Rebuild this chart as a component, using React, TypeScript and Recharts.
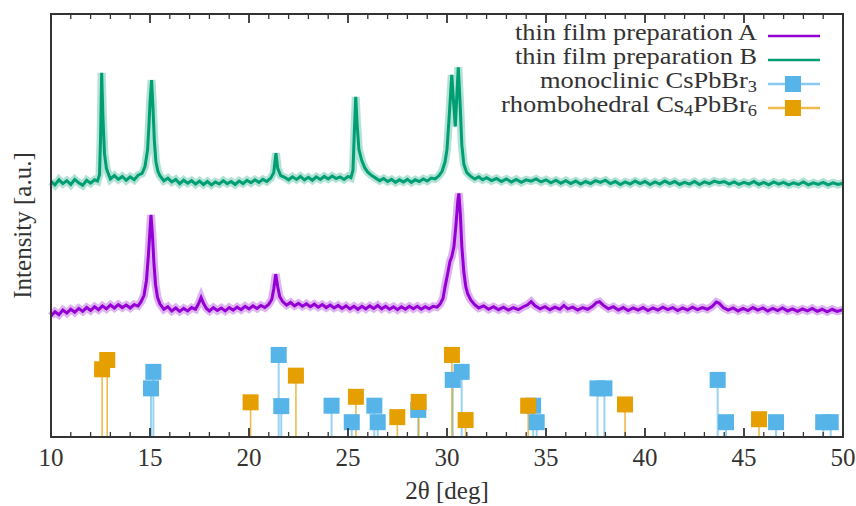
import React from 'react';
import { ComposedChart, Line, Scatter, XAxis, YAxis, ReferenceLine, Label } from 'recharts';

const FONT = '"Liberation Serif", "DejaVu Serif", "Times New Roman", serif';

const GREEN = '#009E73';
const PURPLE = '#9400D3';
const BLUE = '#56B4E9';
const ORANGE = '#E69F00';
const FRAME = '#333';

// chart box (must match the margins / axis sizes below)
const W = 856;
const H = 506;
const PLOT_LEFT = 51;
const PLOT_RIGHT = 843;
const PLOT_TOP = 14;
const PLOT_BOTTOM = 437;

// thin film preparation A (offset trace, arbitrary units)
const filmA: [number, number][] = [
  [10.0, 28.6], [10.2, 29.6], [10.4, 28.9], [10.6, 30.0], [10.8, 29.3], [11.0, 30.2], [11.2, 29.5],
  [11.4, 30.4], [11.6, 29.7], [11.8, 30.6], [12.0, 29.9], [12.2, 30.8], [12.4, 30.1], [12.6, 31.0],
  [12.8, 30.3], [13.0, 31.2], [13.2, 30.5], [13.4, 31.3], [13.6, 30.6], [13.8, 31.2], [14.0, 30.5],
  [14.2, 31.3], [14.4, 31.0], [14.55, 32.0], [14.7, 33.5], [14.82, 37], [14.92, 43], [15.0, 49],
  [15.05, 52.5], [15.12, 48], [15.2, 41], [15.28, 36], [15.38, 33], [15.5, 31.5], [15.7, 30.2],
  [15.9, 30.8], [16.1, 29.8], [16.3, 30.5], [16.5, 29.7], [16.7, 30.4], [16.9, 29.8], [17.1, 30.6],
  [17.3, 30.2], [17.45, 31.5], [17.58, 33.0], [17.7, 31.6], [17.85, 30.4], [18.0, 29.8], [18.2, 30.6],
  [18.4, 29.9], [18.6, 30.5], [18.8, 29.8], [19.0, 30.6], [19.2, 30.0], [19.4, 30.7], [19.6, 30.1],
  [19.8, 30.9], [20.0, 30.3], [20.2, 31.0], [20.4, 30.4], [20.6, 31.1], [20.8, 30.6], [21.0, 31.4],
  [21.15, 32.5], [21.25, 35], [21.35, 38.5], [21.45, 35.5], [21.55, 33.2], [21.7, 32.0], [21.9, 31.2],
  [22.1, 31.8], [22.3, 31.0], [22.5, 31.6], [22.7, 30.9], [22.9, 31.5], [23.1, 30.8], [23.3, 31.4],
  [23.5, 30.7], [23.7, 31.3], [23.9, 30.6], [24.1, 31.2], [24.3, 30.5], [24.5, 31.1], [24.7, 30.4],
  [24.9, 31.0], [25.1, 30.3], [25.3, 30.9], [25.5, 30.2], [25.7, 30.9], [25.9, 30.3], [26.1, 31.0],
  [26.3, 30.4], [26.5, 31.1], [26.7, 30.3], [26.9, 30.9], [27.1, 30.2], [27.3, 30.8], [27.5, 30.1],
  [27.7, 30.8], [27.9, 30.2], [28.1, 30.9], [28.3, 30.3], [28.5, 30.9], [28.7, 30.2], [28.9, 30.8],
  [29.1, 30.3], [29.3, 30.9], [29.5, 30.7], [29.65, 31.4], [29.8, 32.8], [29.9, 35.5], [30.05, 39],
  [30.15, 41.5], [30.24, 42.6], [30.35, 45], [30.45, 50], [30.55, 56], [30.6, 57.6], [30.67, 53],
  [30.75, 45], [30.85, 39], [30.95, 35.5], [31.05, 33.8], [31.2, 32.4], [31.4, 31.3], [31.6, 30.5],
  [31.85, 31.0], [32.1, 30.2], [32.35, 30.8], [32.6, 30.1], [32.85, 30.7], [33.1, 30.0], [33.35, 30.6],
  [33.6, 30.1], [33.85, 30.8], [34.05, 31.2], [34.25, 32.0], [34.45, 31.0], [34.7, 30.3], [34.95, 30.8],
  [35.2, 30.1], [35.45, 30.7], [35.7, 30.2], [35.9, 31.1], [36.1, 30.3], [36.35, 30.7], [36.6, 30.0],
  [36.85, 30.6], [37.1, 30.2], [37.35, 30.9], [37.55, 31.8], [37.7, 32.0], [37.9, 31.1], [38.15, 30.3],
  [38.4, 30.8], [38.65, 30.0], [38.9, 30.6], [39.15, 29.9], [39.4, 30.5], [39.65, 30.0], [39.9, 30.6],
  [40.15, 29.9], [40.4, 30.5], [40.65, 30.0], [40.9, 30.7], [41.15, 30.1], [41.4, 30.6], [41.65, 29.9],
  [41.9, 30.5], [42.15, 30.0], [42.4, 30.7], [42.65, 30.1], [42.9, 30.6], [43.15, 30.2], [43.4, 30.9],
  [43.6, 31.9], [43.75, 31.6], [43.95, 30.6], [44.2, 30.0], [44.45, 30.5], [44.7, 29.8], [44.95, 30.4],
  [45.2, 29.9], [45.45, 30.6], [45.7, 30.0], [45.95, 30.5], [46.2, 29.8], [46.45, 30.4], [46.7, 29.9],
  [46.95, 30.5], [47.2, 29.8], [47.45, 30.3], [47.7, 29.7], [47.95, 30.3], [48.2, 29.8], [48.45, 30.4],
  [48.7, 29.7], [48.95, 30.2], [49.2, 29.6], [49.45, 30.2], [49.7, 29.7], [50.0, 30.1],
];

// thin film preparation B
const filmB: [number, number][] = [
  [10.0, 60.4], [10.2, 59.6], [10.4, 60.8], [10.6, 59.9], [10.8, 60.6], [11.0, 59.7], [11.2, 60.9],
  [11.4, 60.1], [11.6, 59.5], [11.8, 60.7], [12.0, 60.0], [12.2, 60.8], [12.35, 60.5], [12.45, 62.0],
  [12.5, 70], [12.56, 86.1], [12.62, 76], [12.7, 67], [12.8, 63.5], [12.9, 62.2], [13.0, 61.0],
  [13.2, 61.8], [13.4, 60.9], [13.6, 61.6], [13.8, 60.7], [14.0, 61.5], [14.2, 60.8], [14.4, 61.9],
  [14.6, 62.3], [14.75, 64], [14.88, 68], [14.95, 74], [15.0, 79], [15.08, 84.4], [15.15, 78],
  [15.22, 70], [15.3, 65], [15.4, 62.8], [15.5, 61.8], [15.7, 60.6], [15.9, 61.2], [16.1, 60.3],
  [16.3, 60.9], [16.5, 59.9], [16.7, 60.7], [16.9, 60.0], [17.1, 60.6], [17.3, 59.8], [17.5, 60.5],
  [17.7, 59.7], [17.9, 60.4], [18.1, 59.6], [18.3, 60.3], [18.5, 59.8], [18.7, 60.6], [18.9, 59.9],
  [19.1, 60.4], [19.3, 59.7], [19.5, 60.5], [19.7, 59.9], [19.9, 60.7], [20.1, 60.1], [20.3, 60.8],
  [20.5, 60.2], [20.7, 60.9], [20.9, 60.4], [21.1, 61.2], [21.25, 62.5], [21.36, 67.1], [21.45, 63.5],
  [21.6, 61.8], [21.8, 61.4], [22.0, 60.8], [22.2, 61.5], [22.4, 60.9], [22.6, 61.6], [22.8, 60.8],
  [23.0, 61.4], [23.2, 60.7], [23.4, 61.5], [23.6, 60.9], [23.8, 61.6], [24.0, 61.0], [24.2, 61.7],
  [24.4, 61.1], [24.6, 61.5], [24.8, 60.9], [25.0, 61.6], [25.15, 61.3], [25.25, 63], [25.32, 72],
  [25.39, 80.4], [25.46, 74], [25.55, 68], [25.7, 65.3], [25.85, 63.6], [26.0, 62.6], [26.2, 61.8],
  [26.4, 61.2], [26.6, 60.6], [26.8, 61.1], [27.0, 60.4], [27.2, 60.9], [27.4, 60.2], [27.6, 60.8],
  [27.8, 60.3], [28.0, 60.9], [28.2, 60.2], [28.4, 60.8], [28.6, 60.4], [28.8, 61.0], [29.0, 60.5],
  [29.2, 61.2], [29.4, 61.0], [29.6, 61.8], [29.75, 62.8], [29.9, 65], [30.0, 68], [30.1, 75],
  [30.18, 81], [30.24, 85.6], [30.32, 80], [30.42, 73.4], [30.5, 81], [30.57, 87.4], [30.65, 80],
  [30.75, 69], [30.85, 64.5], [31.0, 62.5], [31.2, 61.6], [31.4, 61.0], [31.6, 61.5], [31.8, 60.8],
  [32.0, 61.3], [32.25, 60.6], [32.5, 61.1], [32.75, 60.4], [33.0, 61.0], [33.25, 60.3], [33.5, 60.9],
  [33.75, 60.2], [34.0, 60.8], [34.25, 60.5], [34.5, 61.0], [34.75, 60.3], [35.0, 60.8], [35.25, 60.1],
  [35.5, 60.7], [35.75, 60.0], [36.0, 60.6], [36.25, 59.9], [36.5, 60.5], [36.75, 59.8], [37.0, 60.4],
  [37.25, 59.9], [37.5, 60.6], [37.75, 60.2], [38.0, 60.7], [38.25, 59.9], [38.5, 60.4], [38.75, 59.7],
  [39.0, 60.3], [39.25, 59.8], [39.5, 60.5], [39.75, 59.9], [40.0, 60.4], [40.25, 59.7], [40.5, 60.3],
  [40.75, 59.8], [41.0, 60.5], [41.25, 59.9], [41.5, 60.4], [41.75, 59.7], [42.0, 60.2], [42.25, 59.8],
  [42.5, 60.4], [42.75, 59.7], [43.0, 60.3], [43.25, 59.9], [43.5, 60.5], [43.75, 60.1], [44.0, 60.4],
  [44.25, 59.8], [44.5, 60.3], [44.75, 59.7], [45.0, 60.2], [45.25, 59.8], [45.5, 60.4], [45.75, 59.7],
  [46.0, 60.2], [46.25, 59.6], [46.5, 60.3], [46.75, 59.8], [47.0, 60.2], [47.25, 59.6], [47.5, 60.1],
  [47.75, 59.7], [48.0, 60.3], [48.25, 59.6], [48.5, 60.1], [48.75, 59.7], [49.0, 60.2], [49.25, 59.6],
  [49.5, 60.1], [49.75, 59.7], [50.0, 60.0],
];

// reference reflections: [2θ, relative height]
const monoclinic: [number, number][] = [
  [15.05, 11.5], [15.17, 15.4], [21.5, 19.4], [21.63, 7.3], [24.17, 7.4], [25.19, 3.5],
  [26.33, 7.4], [26.5, 3.5], [28.55, 6.4], [30.29, 13.5], [30.74, 15.4], [34.35, 7.4],
  [34.53, 3.5], [37.6, 11.5], [37.95, 11.5], [43.67, 13.5], [44.09, 3.5], [46.62, 3.5],
  [49.0, 3.5], [49.38, 3.5],
];

const rhombohedral: [number, number][] = [
  [12.58, 16.0], [12.84, 18.2], [20.08, 8.2], [22.37, 14.5], [25.4, 9.5], [27.49, 4.7],
  [28.57, 8.3], [30.25, 19.4], [30.94, 4.0], [34.1, 7.4], [38.99, 7.7], [45.76, 4.2],
];

const xTicks = [
  10, 11, 12, 13, 14, 15, 16, 17, 18, 19, 20, 21, 22, 23, 24, 25, 26, 27, 28, 29, 30,
  31, 32, 33, 34, 35, 36, 37, 38, 39, 40, 41, 42, 43, 44, 45, 46, 47, 48, 49, 50,
];
const xLabels = [10, 15, 20, 25, 30, 35, 40, 45, 50];

const toPoints = (rows: [number, number][]) => rows.map(([x, y]) => ({ x, y }));

const BottomTick = (props: any) => {
  const { x, y, payload } = props;
  const major = xLabels.includes(payload.value);
  return (
    <g>
      <line x1={x} x2={x} y1={y} y2={y - (major ? 9 : 5)} stroke="#333" strokeWidth={major ? 1.8 : 1.3} />
      {major && (
        <text x={x} y={y + 29} textAnchor="middle" fontSize={25} fontFamily={FONT} fill="#333">
          {payload.value}
        </text>
      )}
    </g>
  );
};

const square = (color: string) => (props: any) => (
  <rect x={props.cx - 8} y={props.cy - 8} width={16} height={16} fill={color} />
);

const legendRows = [
  { label: 'thin film preparation A', color: PURPLE, box: false, width: 242 },
  { label: 'thin film preparation B', color: GREEN, box: false, width: 242 },
  { label: 'monoclinic CsPbBr', sub: ['3'], color: BLUE, box: true, width: 217 },
  { label: 'rhombohedral Cs', sub: ['4', 'PbBr', '6'], color: ORANGE, box: true, width: 256 },
];

// top/right frame edges with inward ticks, plus the key
const Overlay = () => {
  const tickX = (t: number) => PLOT_LEFT + ((t - 10) / 40) * (PLOT_RIGHT - PLOT_LEFT);
  return (
    <svg
      width={W}
      height={H}
      viewBox={`0 0 ${W} ${H}`}
      style={{ position: 'absolute', left: 0, top: 0, pointerEvents: 'none', zIndex: 5 }}
    >
      <rect
        x={PLOT_LEFT}
        y={PLOT_TOP}
        width={PLOT_RIGHT - PLOT_LEFT}
        height={PLOT_BOTTOM - PLOT_TOP}
        fill="none"
        stroke={FRAME}
        strokeWidth={2}
      />
      {xTicks.map((t) => {
        const major = xLabels.includes(t);
        return (
          <line
            key={t}
            x1={tickX(t)}
            x2={tickX(t)}
            y1={PLOT_TOP}
            y2={PLOT_TOP + (major ? 9 : 5)}
            stroke="#333"
            strokeWidth={major ? 1.8 : 1.3}
          />
        );
      })}
      {legendRows.map((r, i) => {
        const cy = 36 + i * 24;
        return (
          <g key={r.label}>
            <text
              x={757}
              y={cy + 4}
              textAnchor="end"
              fontSize={23}
              fontFamily={FONT}
              fill="#333"
              textLength={r.width}
              lengthAdjust="spacingAndGlyphs"
            >
              {r.label}
              {r.sub && r.sub.length === 1 && (
                <tspan fontSize={16} dy={4}>{r.sub[0]}</tspan>
              )}
              {r.sub && r.sub.length === 3 && (
                <>
                  <tspan fontSize={16} dy={4}>{r.sub[0]}</tspan>
                  <tspan dy={-4}>{r.sub[1]}</tspan>
                  <tspan fontSize={16} dy={4}>{r.sub[2]}</tspan>
                </>
              )}
            </text>
            <line x1={768} x2={820} y1={cy} y2={cy} stroke={r.color} strokeWidth={2.5} strokeOpacity={r.box ? 0.7 : 1} />
            {r.box && <rect x={785} y={cy - 8} width={16} height={16} fill={r.color} />}
          </g>
        );
      })}
    </svg>
  );
};

export default function App() {
  const a = toPoints(filmA);
  const b = toPoints(filmB);
  const mono = toPoints(monoclinic);
  const rhombo = toPoints(rhombohedral);

  return (
    <div style={{ position: 'absolute', left: 0, top: 0, width: W, height: H, background: '#fff' }}>
      <ComposedChart
        width={W}
        height={H}
        margin={{ top: PLOT_TOP, right: W - PLOT_RIGHT, bottom: 0, left: 0 }}
      >
        <XAxis
          dataKey="x"
          type="number"
          domain={[10, 50]}
          ticks={xTicks}
          interval={0}
          tickSize={0}
          tickMargin={0}
          height={H - PLOT_BOTTOM}
          tick={BottomTick}
          tickLine={false}
          axisLine={{ stroke: FRAME, strokeWidth: 1.5 }}
        >
          <Label value="2θ [deg]" position="insideBottom" offset={7} fontSize={25} fontFamily={FONT} fill="#333" />
        </XAxis>
        <YAxis
          type="number"
          domain={[0, 100]}
          width={PLOT_LEFT}
          tick={false}
          tickLine={false}
          axisLine={{ stroke: FRAME, strokeWidth: 1.5 }}
        >
          <Label value="Intensity [a.u.]" angle={-90} position="center" dx={-3} fontSize={25} fontFamily={FONT} fill="#333" />
        </YAxis>

        {mono.map((p, i) => (
          <ReferenceLine
            key={'m' + i}
            segment={[{ x: p.x, y: 0 }, { x: p.x, y: p.y }]}
            stroke={BLUE}
            strokeOpacity={0.6}
            strokeWidth={2}
          />
        ))}
        <Scatter data={mono} dataKey="y" shape={square(BLUE)} isAnimationActive={false} />

        {rhombo.map((p, i) => (
          <ReferenceLine
            key={'r' + i}
            segment={[{ x: p.x, y: 0 }, { x: p.x, y: p.y }]}
            stroke={ORANGE}
            strokeOpacity={0.7}
            strokeWidth={1.6}
          />
        ))}
        <Scatter data={rhombo} dataKey="y" shape={square(ORANGE)} isAnimationActive={false} />

        {/* soft halo + core line give the noisy-band look of the raw scans */}
        <Line data={b} dataKey="y" type="linear" stroke={GREEN} strokeOpacity={0.3} strokeWidth={8} dot={false} isAnimationActive={false} />
        <Line data={b} dataKey="y" type="linear" stroke={GREEN} strokeWidth={3} dot={false} isAnimationActive={false} />
        <Line data={a} dataKey="y" type="linear" stroke={PURPLE} strokeOpacity={0.3} strokeWidth={8} dot={false} isAnimationActive={false} />
        <Line data={a} dataKey="y" type="linear" stroke={PURPLE} strokeWidth={3} dot={false} isAnimationActive={false} />
      </ComposedChart>
      <Overlay />
    </div>
  );
}
